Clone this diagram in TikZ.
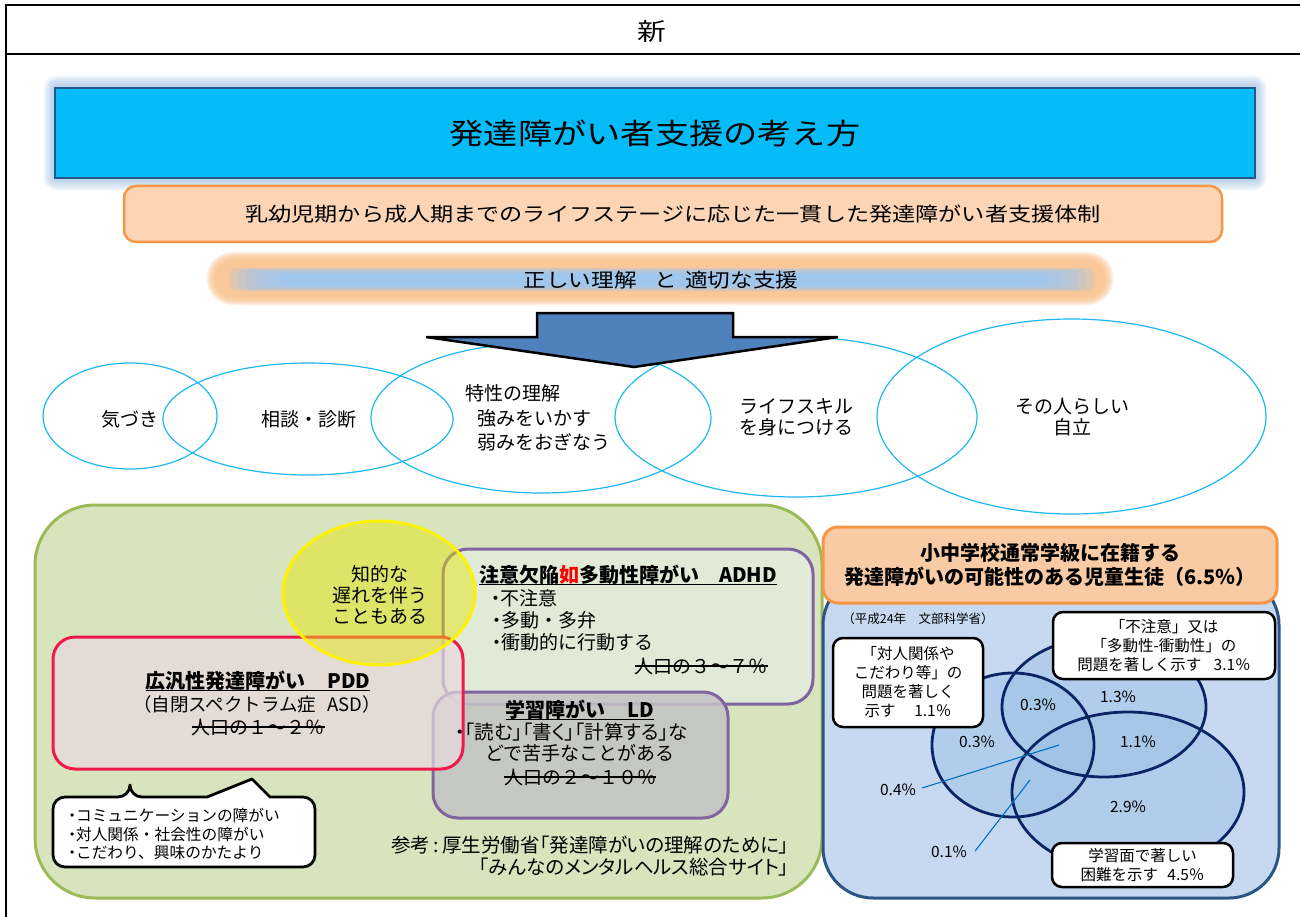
\documentclass[tikz,border=0pt]{standalone}
\usepackage{fontspec}
\setmainfont{Noto Sans CJK JP}
\newfontfamily\pfont{Noto Sans CJK JP}[RawFeature=+palt]
\usepackage{graphicx}
\newsavebox\strkbox
\newcommand\strk[1]{\sbox\strkbox{#1}\rlap{\usebox\strkbox}\rule[0.33em]{\wd\strkbox}{1.3pt}}
\newcommand\ulin[1]{\sbox\strkbox{#1}\rlap{\usebox\strkbox}\rule[-0.16em]{\wd\strkbox}{1.5pt}}
\newcommand\fsz[2]{\fontsize{#1}{#2}\selectfont}
\newcommand\pdot{{\pfont ・}}
\definecolor{hdrblue}{HTML}{05BCF9}
\definecolor{hdrline}{HTML}{1E5A8A}
\definecolor{glowblue}{HTML}{8DB4E2}
\definecolor{peach}{HTML}{FBD5B5}
\definecolor{orangeline}{HTML}{F79646}
\definecolor{glowor}{HTML}{FAC089}
\definecolor{innerblue}{HTML}{9AC6F4}
\definecolor{arrowblue}{HTML}{4F81BD}
\definecolor{cyanline}{HTML}{1DB8F2}
\definecolor{greenfill}{HTML}{D7E4BD}
\definecolor{greenline}{HTML}{9BBB59}
\definecolor{purpleline}{HTML}{8064A2}
\definecolor{redline}{HTML}{F0194A}
\definecolor{pddfill}{HTML}{EADADE}
\definecolor{adhdfill}{HTML}{E6EEE8}
\definecolor{ldfill}{HTML}{C3C3C3}
\definecolor{panelblue}{HTML}{C6D9F1}
\definecolor{panelline}{HTML}{2A5585}
\definecolor{rhdrfill}{HTML}{F9CBA4}
\definecolor{navy}{HTML}{0A2466}
\definecolor{vennfill}{HTML}{9DC3E6}
\definecolor{leaderblue}{HTML}{0070C0}
\definecolor{yel}{HTML}{E6E600}
\begin{document}
\begin{tikzpicture}[x=1pt,y=-1pt,
  txt/.style={inner sep=0pt, align=center},
  ell/.style={draw=cyanline, line width=1.2pt},
  ebody/.style={txt, font=\fsz{19}{23}},
  body/.style={txt, font=\fsz{19}{21}},
  small/.style={txt, font=\fsz{15.7}{18.5}},
  venn/.style={txt, font=\fsz{15.5}{19}},
  lbox/.style={draw=black, line width=2.5pt, fill=white, rounded corners=10pt, inner sep=0pt, align=center, font=\fsz{15.5}{19}},
  vfill/.style={fill=vennfill, fill opacity=0.5},
  vline/.style={draw=navy, line width=2.8pt},
  leader/.style={draw=leaderblue, line width=1.1pt}
]
\useasboundingbox (0,0) rectangle (1300,917);
\fill[white] (0,0) rectangle (1300,917);
% frame
\draw[line width=2.5pt] (6,5) -- (1300,5);
\draw[line width=2.5pt] (6,54) -- (1300,54);
\draw[line width=2pt] (6,4) -- (6,917);
\node[txt] (hdr) at (652,31) {\fsz{24}{28}\scalebox{1.2}[1]{新}};

% title glow
\foreach \i in {1,...,9}
  \fill[glowblue, opacity=0.09, rounded corners={\i*1.5pt}] ({55-\i*1.3},{88-\i*1.4}) rectangle ({1255+\i*1.3},{178+\i*1.4});
\node[draw=hdrline, line width=2pt, fill=hdrblue, minimum width=1200pt, minimum height=90pt, inner sep=0pt] (title) at (655,133) {\fsz{29}{32}\scalebox{1.18}[1]{発達障がい者支援の考え方}};

% subtitle box
\node[draw=orangeline, line width=2.5pt, fill=peach, rounded corners=12pt, minimum width=1098pt, minimum height=56pt, inner sep=0pt] (sub) at (673,214) {\fsz{19.6}{22}\scalebox{1.18}[1]{乳幼児期から成人期までのライフステージに応じた一貫した発達障がい者支援体制}};

% glow band
\foreach \i in {0,...,8}
  \fill[glowor, opacity=0.2, rounded corners={(18+\i)*1pt}] ({216-\i*1.2},{260-\i*1}) rectangle ({1104+\i*1.2},{297+\i*1});
\foreach \i in {0,...,7}
  \fill[innerblue, opacity=0.28, rounded corners=7pt] ({230+\i*8},{268+\i*0.9}) rectangle ({1094-\i*8},{291-\i*0.9});
\node[txt] (understand) at (661,280) {\fsz{19.5}{22}\scalebox{1.16}[1]{正しい理解\hspace{0.8em}と\hspace{0.35em}適切な支援}};

% ellipses
\draw[ell] (130,416) ellipse [x radius=87, y radius=53];
\draw[ell] (308,419) ellipse [x radius=145, y radius=56];
\draw[ell] (541,418) ellipse [x radius=170, y radius=75];
\draw[ell] (796,417) ellipse [x radius=181, y radius=80];
\draw[ell] (1071.5,416.5) ellipse [x radius=194.5, y radius=97.5];

% arrow
\draw[fill=arrowblue, line width=2.5pt, line join=miter] (537,313) -- (733,313) -- (733,337) -- (838,337) -- (634,367) -- (426,337) -- (537,337) -- cycle;

\node[ebody] (kiduki) at (130,419) {気づき};
\node[ebody] (soudan) at (309,419) {相談・診断};
\node[ebody, anchor=west] (tok1) at (465,393) {特性の理解};
\node[ebody, anchor=west] (tok2) at (477,418) {強みをいかす};
\node[ebody, anchor=west] (tok3) at (477,442) {弱みをおぎなう};
\node[ebody] (life) at (796,417.5) {ライフスキル\\[-2pt]を身につける};
\node[ebody] (jiritsu) at (1072,417.5) {その人らしい\\[-2pt]自立};

% green panel
\draw[fill=greenfill, draw=greenline, line width=3pt, rounded corners=60pt] (35,505) rectangle (822,898);

% boxes
\node[draw=purpleline, line width=3pt, fill=adhdfill, fill opacity=0.6, rounded corners=25pt, minimum width=370pt, minimum height=155pt, inner sep=0pt] (adhd) at (628,626.5) {};
\node[draw=purpleline, line width=3pt, fill=ldfill, fill opacity=0.85, rounded corners=25pt, minimum width=295pt, minimum height=126pt, inner sep=0pt] (ld) at (580.5,755) {};
\node[draw=redline, line width=3pt, fill=pddfill, fill opacity=0.7, rounded corners=22pt, minimum width=410pt, minimum height=132pt, inner sep=0pt] (pdd) at (258,703) {};
\draw[draw=yellow, line width=3pt, fill=yel, fill opacity=0.45] (379,593) ellipse [x radius=96, y radius=72];
\node[body] (chiteki) at (380,595) {知的な\\遅れを伴う\\こともある};

% PDD texts
\node[txt, font=\fsz{20}{22}\bfseries] (pddt) at (258,681) {\ulin{広汎性発達障がい\hspace{1.1em}PDD}};
\node[txt, font=\fsz{18.5}{22}] (asd) at (257,704) {（自閉スペクトラム症\hspace{0.6em}ASD）};
\node[body] (pddp) at (258,727) {\strk{人口の１～２％}};

% ADHD texts
\node[txt, font=\fsz{20}{22}\bfseries] (adhdt) at (628,575) {\ulin{注意欠陥\textcolor{red}{如}多動性障がい\hspace{1em}ADHD}};
\node[body, anchor=west] (a1) at (491,598) {\pdot 不注意};
\node[body, anchor=west] (a2) at (492,620) {\pdot 多動・多弁};
\node[body, anchor=west] (a3) at (492,642) {\pdot 衝動的に行動する};
\node[body] (adhdp) at (701,666) {\strk{人口の３～７％}};

% LD texts
\node[txt, font=\fsz{20}{22}\bfseries] (ldt) at (580,710) {\ulin{学習障がい\hspace{1.1em}LD}};
\node[body, anchor=west, font=\fsz{19.5}{21}\pfont] (l1) at (455,732) {・「読む」「書く」「計算する」な};
\node[body] (l2) at (580,753) {どで苦手なことがある};
\node[body] (ldp) at (580,777) {\strk{人口の２～１０％}};

% bubble
\draw[line width=2.8pt, fill=white, line join=round] (130,797) -- (207,797) -- (252,779) -- (270,797) -- (282,797) [rounded corners=12pt] -- (315,797) -- (315,867) -- (53,867) -- (53,797) -- (130,797) -- cycle;
\node[small, anchor=west, align=left] (traits) at (68,834) {\pdot コミュニケーションの障がい\\\pdot 対人関係・社会性の障がい\\\pdot こだわり、興味のかたより};

% reference
\node[txt, anchor=east, align=right, font=\fsz{19.5}{22}\pfont] (ref) at (789,856) {参考\,:\,厚生労働省「発達障がいの理解のために」\\「みんなのメンタルヘルス総合サイト」};

% right panel
\draw[fill=panelblue, draw=panelline, line width=3pt, rounded corners=50pt] (823,575) rectangle (1279,898);
\node[draw=orangeline, line width=3pt, fill=rhdrfill, rounded corners=15pt, minimum width=454pt, minimum height=76pt, inner sep=0pt, align=center, font=\fsz{20}{24}\bfseries] (rhdr) at (1050,565) {小中学校通常学級に在籍する\\発達障がいの可能性のある児童生徒（6.5％）};
\node[txt, font=\fsz{12.5}{14}] (src) at (918,619) {（平成24年\hspace{1em}文部科学省）};

% venn
\fill[vfill] (1013,745) ellipse [x radius=81, y radius=72];
\fill[vfill] (1104,707) ellipse [x radius=102, y radius=70];
\fill[vfill] (1128,792) ellipse [x radius=116, y radius=80];
\draw[vline] (1013,745) ellipse [x radius=81, y radius=72];
\draw[vline] (1104,707) ellipse [x radius=102, y radius=70];
\draw[vline] (1128,792) ellipse [x radius=116, y radius=80];

\node[venn] (p13) at (1118,697) {1.3\%};
\node[venn] (p03a) at (1038,705) {0.3\%};
\node[venn] (p03b) at (977,742) {0.3\%};
\node[venn] (p11) at (1138,742) {1.1\%};
\node[venn] (p29) at (1128,807) {2.9\%};
\node[venn] (p04) at (898,790) {0.4\%};
\node[venn] (p01) at (949,852) {0.1\%};
\coordinate (c04) at (1059,745);
\coordinate (c01) at (1030,780);
\draw[leader] (p04.east) ++(6,-2) coordinate (s04) -- (c04);
\draw[leader] (p01.east) ++(8,-1) coordinate (s01) -- (c01);

\node[lbox, minimum width=150pt, minimum height=89pt] (b1) at (908,682.5) {「対人関係や\\こだわり等」の\\問題を著しく\\示す\hspace{1.2em}1.1％};
\node[lbox, minimum width=222pt, minimum height=67pt] (b2) at (1164,645.5) {「不注意」又は\\「多動性-衝動性」の\\問題を著しく示す\hspace{0.8em}3.1％};
\node[lbox, minimum width=181pt, minimum height=44pt] (b3) at (1142.5,865) {学習面で著しい\\困難を示す\hspace{0.6em}4.5％};
\end{tikzpicture}
\end{document}
